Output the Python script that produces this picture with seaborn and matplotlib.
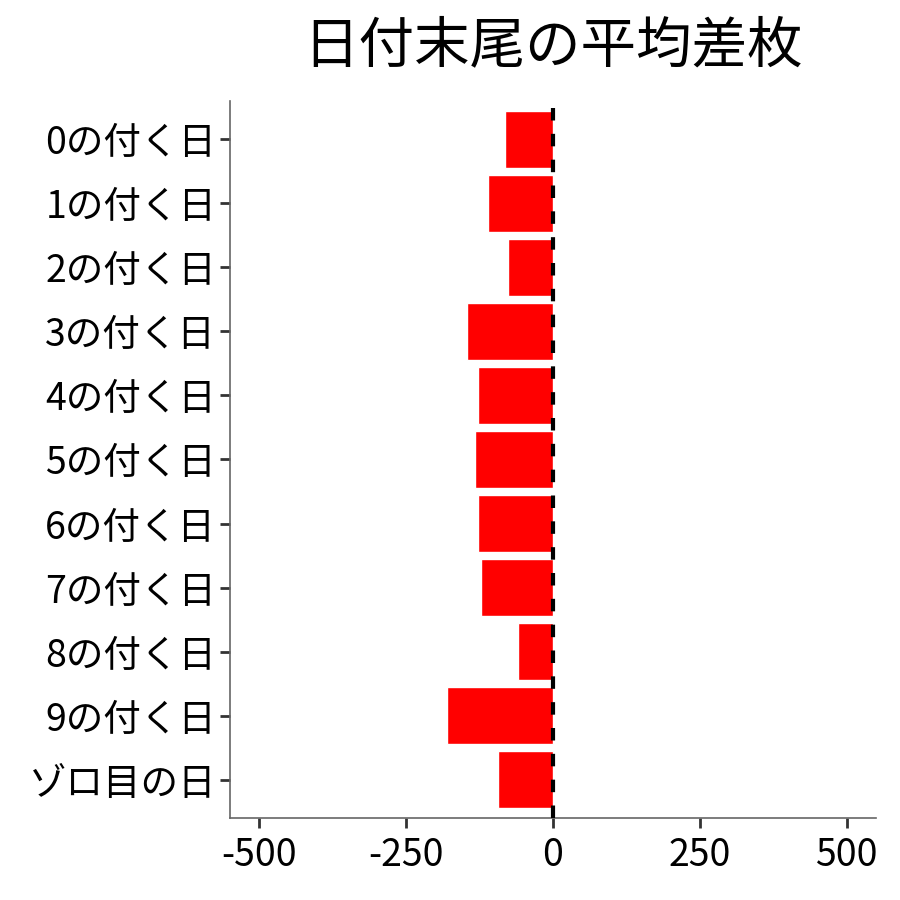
import matplotlib
matplotlib.use('Agg')
import matplotlib.pyplot as plt
import seaborn as sns
import pandas as pd

# データ
labels = ['0の付く日', '1の付く日', '2の付く日', '3の付く日', '4の付く日',
          '5の付く日', '6の付く日', '7の付く日', '8の付く日', '9の付く日', 'ゾロ目の日']
diffs = [-81, -110, -76, -147, -127, -132, -127, -122, -60, -181, -94]
xticks = [-500, -250, 0, 250, 500]

sns.set_style('white')
plt.rcParams['font.family'] = ['Noto Sans CJK JP', 'DejaVu Sans']
plt.rcParams['text.color'] = 'black'

df = pd.DataFrame({'label': labels, 'diff': diffs})

fig = plt.figure(figsize=(9, 9), dpi=100)
ax = fig.add_axes([0.2556, 0.0911, 0.7177, 0.7967])

sns.barplot(data=df, x='diff', y='label', order=labels, color='#ff0000',
            saturation=1, width=0.9, ax=ax, zorder=2)
ax.axvline(0, color='black', linestyle=(0, (3, 3.2)), linewidth=3, zorder=3)

ax.set_xlim(-550, 550)
ax.set_ylim(len(labels) - 0.4, -0.6)
ax.set_xticks(xticks)
ax.set_xticklabels([str(t) for t in xticks])
ax.set_xlabel('')
ax.set_ylabel('')

for s in ['top', 'right']:
    ax.spines[s].set_visible(False)
for s in ['left', 'bottom']:
    ax.spines[s].set_color('#666666')
    ax.spines[s].set_linewidth(1.2)

ax.tick_params(axis='both', which='both', length=7, width=2, color='#333333',
               labelsize=27, labelcolor='black', pad=3, left=True, bottom=True)
ax.tick_params(axis='x', pad=6)

ax.set_title('日付末尾の平均差枚', fontsize=40, pad=28, color='black')

plt.savefig('out.png', dpi=100)
